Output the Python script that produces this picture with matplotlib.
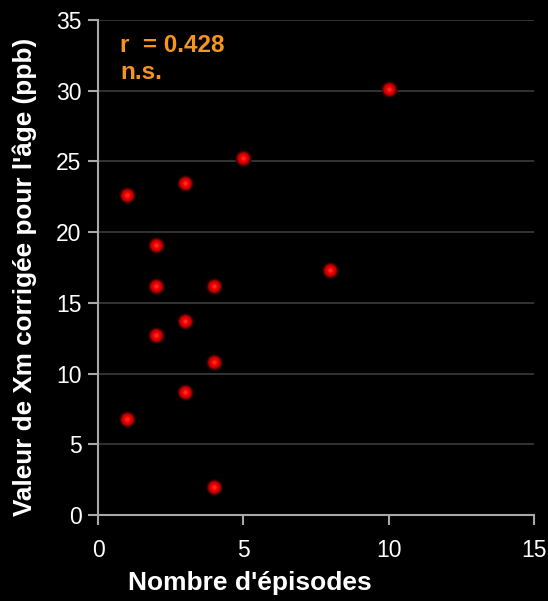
import matplotlib.pyplot as plt

# episodes vs corrected Xm value
episodes = [1, 1, 2, 2, 2, 3, 3, 3, 4, 4, 4, 5, 8, 10]
xm_ppb = [22.6, 6.8, 19.1, 16.2, 12.7, 23.5, 13.7, 8.7, 16.2, 10.8, 2.0, 25.2, 17.3, 30.1]
x_ticks = [0, 5, 10, 15]
y_ticks = [0, 5, 10, 15, 20, 25, 30, 35]

fig = plt.figure(figsize=(5.48, 6.01), dpi=100, facecolor='black')
ax = fig.add_axes([0.179, 0.143, 0.795, 0.824], facecolor='black')

ax.set_xlim(0, 15)
ax.set_ylim(0, 35)
ax.set_xticks(x_ticks)
ax.set_yticks(y_ticks)
ax.yaxis.grid(True, color='#3c3c3c', lw=1.2)
ax.set_axisbelow(True)

for s in ['top', 'right']:
    ax.spines[s].set_visible(False)
ax.spines['left'].set_color('#a8a8a8')
ax.spines['bottom'].set_color('#a8a8a8')
ax.spines['left'].set_linewidth(1.5)
ax.spines['bottom'].set_linewidth(1.5)
ax.tick_params(colors='#a8a8a8', length=7, width=1.5, labelcolor='white', labelsize=16.5, pad=5)
for lab in ax.get_xticklabels() + ax.get_yticklabels():
    lab.set_fontfamily('Liberation Sans')
ax.tick_params(axis='x', pad=10)

# glossy red dots: stacked soft layers
layers = [(150, '#300000', 0.6), (115, '#600000', 0.8), (85, '#a00000', 1),
          (58, '#d00000', 1), (32, '#f00000', 1), (10, '#ff3030', 0.8)]
for size, col, a in layers:
    ax.scatter(episodes, xm_ppb, s=size, c=col, alpha=a, lw=0, zorder=3)

ax.text(0.05, 0.949, 'r  = 0.428', transform=ax.transAxes, color='#f7941d',
        fontsize=17.5, fontweight='bold', family='Liberation Sans', va='center')
ax.text(0.05, 0.893, 'n.s.', transform=ax.transAxes, color='#f7941d',
        fontsize=17.5, fontweight='bold', family='Liberation Sans', va='center')

fig.text(0.456, 0.03, "Nombre d'épisodes", color='white', fontsize=19,
         fontweight='bold', family='Liberation Sans', ha='center', va='center')
fig.text(0.045, 0.54, "Valeur de Xm corrigée pour l'âge (ppb)", color='white', fontsize=18.8,
         fontweight='bold', family='Liberation Sans', ha='center', va='center', rotation=90)

fig.savefig('out.png', dpi=100, facecolor='black')
